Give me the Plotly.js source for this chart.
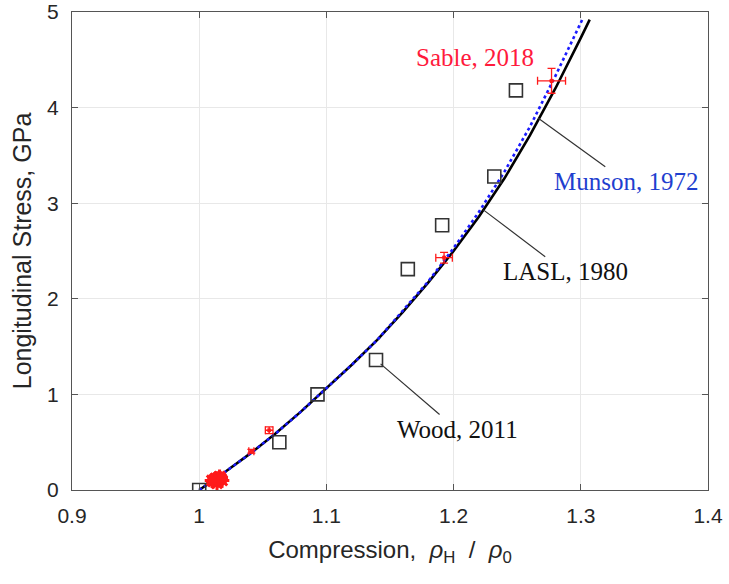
<!DOCTYPE html>
<html>
<head>
<meta charset="utf-8">
<script src="https://cdn.plot.ly/plotly-3.0.1.min.js"></script>
<style>
  html, body { margin: 0; padding: 0; background: #ffffff; }
  #chart { width: 729px; height: 584px; }
</style>
</head>
<body>
<div id="chart"></div>
<script>
// Hugoniot of the material: longitudinal stress vs compression

// LASL, 1980 fit (black solid)
const laslX = [1.00, 1.02, 1.04, 1.06, 1.08, 1.10, 1.12, 1.14, 1.16, 1.18, 1.20, 1.22, 1.24, 1.26, 1.28, 1.30, 1.307];
const laslY = [0.00, 0.185, 0.38, 0.59, 0.82, 1.06, 1.31, 1.57, 1.86, 2.17, 2.50, 2.86, 3.26, 3.71, 4.20, 4.73, 4.92];

// Munson, 1972 fit (blue dotted)
const munsonX = [1.00, 1.02, 1.04, 1.06, 1.08, 1.10, 1.12, 1.14, 1.16, 1.18, 1.20, 1.22, 1.24, 1.26, 1.28, 1.30, 1.3015];
const munsonY = [0.00, 0.185, 0.38, 0.59, 0.82, 1.06, 1.31, 1.57, 1.87, 2.18, 2.53, 2.91, 3.33, 3.80, 4.33, 4.89, 4.93];

// Wood, 2011 measurements (open squares)
const woodX = [1.000, 1.063, 1.093, 1.139, 1.164, 1.191, 1.232, 1.249];
const woodY = [0.00, 0.50, 1.00, 1.36, 2.31, 2.77, 3.28, 4.18];

// Sable, 2018: low-stress shots clustered near 0.1 GPa
const sableLowX = [1.011, 1.013, 1.015, 1.017, 1.014, 1.016, 1.012, 1.018, 1.015, 1.010];
const sableLowY = [0.09, 0.12, 0.10, 0.12, 0.07, 0.14, 0.11, 0.10, 0.12, 0.10];

// Sable, 2018: higher-stress shots with uncertainties
const sableX    = [1.041, 1.055, 1.1925, 1.277];
const sableY    = [0.405, 0.625, 2.43, 4.28];
const sableErrX = [0.002, 0.003, 0.0065, 0.011];
const sableErrY = [0.02, 0.035, 0.056, 0.13];

// Tick labels
const xTickVals = [0.9, 1.0, 1.1, 1.2, 1.3, 1.4];
const xTickText = ['0.9', '1', '1.1', '1.2', '1.3', '1.4'];
const yTickVals = [0, 1, 2, 3, 4, 5];
const yTickText = ['0', '1', '2', '3', '4', '5'];

const sansFont = 'Liberation Sans, Arial, Helvetica, sans-serif';
const serifFont = 'Liberation Serif, Times New Roman, serif';
const axisColor = '#262626';
const sableRed = '#ff1a1a';

const traces = [
  {
    x: laslX, y: laslY, mode: 'lines', name: 'LASL, 1980',
    line: { color: '#000000', width: 2.6 }
  },
  {
    x: munsonX, y: munsonY, mode: 'lines', name: 'Munson, 1972',
    line: { color: '#1a1aff', width: 2.6, dash: 'dot' }
  },
  {
    x: woodX, y: woodY, mode: 'markers', name: 'Wood, 2011',
    marker: { symbol: 'square-open', size: 13, color: '#333333', line: { width: 1.6, color: '#333333' } }
  },
  {
    x: sableLowX, y: sableLowY, mode: 'markers', name: 'Sable, 2018',
    marker: { symbol: 'asterisk-open', size: 12, color: sableRed, line: { width: 3, color: sableRed } }
  },
  {
    x: sableX, y: sableY, mode: 'markers', name: 'Sable, 2018',
    marker: { symbol: 'asterisk-open', size: 4, color: sableRed, line: { width: 1.2, color: sableRed } },
    error_x: { type: 'data', array: sableErrX, visible: true, color: sableRed, thickness: 1.3, width: 4 },
    error_y: { type: 'data', array: sableErrY, visible: true, color: sableRed, thickness: 1.3, width: 4 }
  }
];

const annFont = (c) => ({ family: serifFont, size: 25, color: c });

const layout = {
  width: 729,
  height: 584,
  margin: { l: 72, r: 21, t: 12, b: 94 },
  paper_bgcolor: '#ffffff',
  plot_bgcolor: '#ffffff',
  showlegend: false,
  font: { family: sansFont, color: axisColor },
  xaxis: {
    range: [0.9, 1.4],
    tickvals: xTickVals,
    ticktext: xTickText,
    ticks: 'inside',
    ticklen: 6,
    tickcolor: '#555555',
    ticklabelstandoff: 7,
    showline: true,
    linecolor: '#555555',
    linewidth: 1,
    mirror: 'ticks',
    showgrid: true,
    gridcolor: '#e8e8e8',
    zeroline: false,
    tickfont: { family: sansFont, size: 21, color: axisColor },
    title: {
      text: 'Compression,\u00a0\u00a0<i>ρ</i><sub>H</sub>\u00a0\u00a0/\u00a0\u00a0<i>ρ</i><sub>0</sub>',
      font: { family: sansFont, size: 24, color: axisColor },
      standoff: 14
    }
  },
  yaxis: {
    range: [0, 5],
    tickvals: yTickVals,
    ticktext: yTickText,
    ticks: 'inside',
    ticklen: 6,
    tickcolor: '#555555',
    ticklabelstandoff: 8,
    showline: true,
    linecolor: '#555555',
    linewidth: 1,
    mirror: 'ticks',
    showgrid: true,
    gridcolor: '#e8e8e8',
    zeroline: false,
    tickfont: { family: sansFont, size: 21, color: axisColor },
    title: {
      text: 'Longitudinal Stress, GPa',
      font: { family: sansFont, size: 25, color: axisColor },
      standoff: 8
    }
  },
  annotations: [
    {
      text: 'Sable, 2018', x: 1.2168, y: 4.52, xref: 'x', yref: 'y',
      showarrow: false, font: annFont('#ff1a3c')
    },
    {
      text: 'Munson, 1972', x: 1.2666, y: 3.889, xref: 'x', yref: 'y',
      ax: 1.3355, ay: 3.224, axref: 'x', ayref: 'y',
      showarrow: true, arrowhead: 0, arrowwidth: 1.2, arrowcolor: '#333333',
      font: annFont('#1f3fcf')
    },
    {
      text: 'LASL, 1980', x: 1.2234, y: 2.93, xref: 'x', yref: 'y',
      ax: 1.2876, ay: 2.283, axref: 'x', ayref: 'y',
      showarrow: true, arrowhead: 0, arrowwidth: 1.2, arrowcolor: '#333333',
      font: annFont('#111111')
    },
    {
      text: 'Wood, 2011', x: woodX[3], y: woodY[3], xref: 'x', yref: 'y',
      ax: 1.2027, ay: 0.632, axref: 'x', ayref: 'y',
      showarrow: true, arrowhead: 0, arrowwidth: 1.2, arrowcolor: '#333333', standoff: 6,
      font: annFont('#111111')
    }
  ]
};

Plotly.newPlot('chart', traces, layout, { displayModeBar: false, staticPlot: true });
</script>
</body>
</html>
